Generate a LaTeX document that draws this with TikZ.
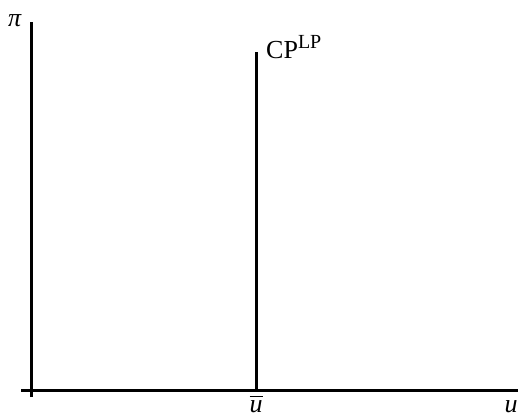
\documentclass[tikz,border=0pt]{standalone}
\usepackage{fontspec}
\setmainfont{Liberation Serif}
\usepackage{unicode-math}
\setmathfont{Latin Modern Math}
\begin{document}
\begin{tikzpicture}[x=1pt,y=-1pt,
  axis/.style={line width=3pt,line cap=butt},
  lbl/.style={inner sep=0pt,font=\fontsize{26}{30}\selectfont}]
\useasboundingbox (0,0) rectangle (518,415);
\coordinate (ytop) at (31,22);
\coordinate (ybot) at (31,397);
\coordinate (xl) at (21,390);
\coordinate (xr) at (518,390);
\coordinate (ctop) at (256,52);
\coordinate (cbot) at (256,390);
\draw[axis] (ybot) -- (ytop);
\draw[axis] (xl) -- (xr);
\draw[axis] (cbot) -- (ctop);
\node[lbl,anchor=base west] (cp) at (266,58) {CP\textsuperscript{\fontsize{20}{22}\selectfont LP}};
\node[lbl,anchor=base] (pi) at (15,26) {\textit{π}};
\node[lbl,anchor=base] (ubar) at (256,412) {$\overline{\hbox{\textit{u}}}$};
\node[lbl,anchor=base] (u) at (511,412) {\textit{u}};
\end{tikzpicture}
\end{document}
